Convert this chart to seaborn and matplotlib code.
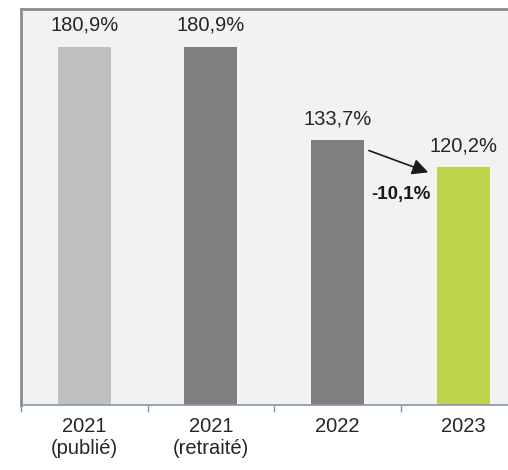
import pandas as pd
import seaborn as sns
import matplotlib.pyplot as plt

categories = ["2021\n(publié)", "2021\n(retraité)", "2022", "2023"]
values = [180.9, 180.9, 133.7, 120.2]
value_labels = ["180,9%", "180,9%", "133,7%", "120,2%"]
bar_colors = ["#bfbfbf", "#7f7f7f", "#7f7f7f", "#bfd24b"]
change_label = "-10,1%"

sns.set_theme(style="white")
plt.rcParams['font.family'] = ['Liberation Sans', 'DejaVu Sans']

df = pd.DataFrame({"cat": categories, "val": values})

fig = plt.figure(figsize=(5.08, 4.70), dpi=100)
fig.patch.set_facecolor("white")
ax = fig.add_axes([21 / 508, 65 / 470, 506 / 508, 396 / 470])

sns.barplot(data=df, x="cat", y="val", hue="cat", palette=bar_colors,
            legend=False, width=0.42, saturation=1, linewidth=0,
            edgecolor="none", ax=ax)

ax.set_facecolor("#f2f2f2")
ax.set_xlim(-0.5, 3.5)
ax.set_ylim(0, 200)
ax.set_xlabel("")
ax.set_ylabel("")
ax.set_yticks([])

for s in ["top", "left"]:
    ax.spines[s].set_color("#8c8c8c")
    ax.spines[s].set_linewidth(2)
ax.spines["right"].set_visible(False)
ax.spines["bottom"].set_color("#8497b0")
ax.spines["bottom"].set_linewidth(1.2)

ax.set_xticks([-0.5, 0.5, 1.5, 2.5, 3.5], minor=True)
ax.tick_params(axis="x", which="minor", bottom=True, length=5, width=1,
               color="#8497b0", direction="out")
ax.tick_params(axis="x", which="major", bottom=False, length=0, pad=9,
               labelsize=14.5, labelcolor="#262626")

for i, (v, lab) in enumerate(zip(values, value_labels)):
    ax.text(i, v + 6, lab, ha="center", va="bottom", fontsize=14.5, color="#262626")

ax.annotate("", xy=(2.74, 117), xytext=(2.23, 129),
            arrowprops=dict(arrowstyle="-|>,head_length=0.8,head_width=0.4",
                            color="#1a1a1a", lw=1.2))
ax.text(2.5, 106.5, change_label, ha="center", va="center", fontsize=13.5,
        fontweight="bold", color="#1a1a1a")

fig.savefig("out.png", dpi=100)
